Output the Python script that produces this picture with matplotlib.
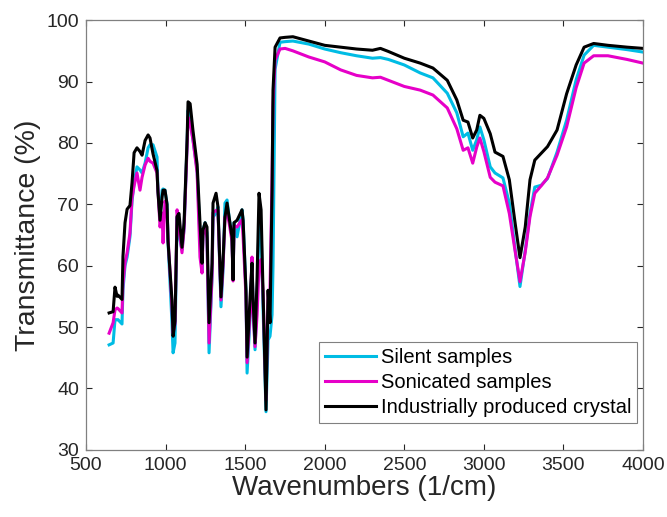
import matplotlib
matplotlib.use("Agg")
from matplotlib import pyplot as plt

plt.rcParams['font.family'] = ['Liberation Sans', 'DejaVu Sans']

# fingerprint region (shared wavenumber grid)
wn_left = [645, 670, 682, 695, 701, 726, 732, 745, 758, 776, 789, 802, 820, 839, 852, 871, 890, 902,
           921, 946, 952, 965, 978, 984, 996, 1009, 1015, 1040, 1047, 1059, 1072, 1084, 1103, 1116,
           1135, 1141, 1154, 1172, 1198, 1216, 1229, 1235, 1248, 1260, 1273, 1292, 1298, 1317, 1329,
           1348, 1361, 1373, 1386, 1399, 1417, 1424, 1430, 1449, 1480, 1487, 1505, 1512, 1531, 1543,
           1549, 1562, 1575, 1587, 1600, 1612, 1631, 1644, 1656, 1669, 1675, 1688, 1719, 1751]

silent_left = [47.1, 47.4, 51.2, 51.2, 51.2, 50.5, 56.0, 60.0, 61.4, 64.7, 70.5, 73.5, 76.1, 75.6, 75.1,
               76.7, 79.2, 79.7, 79.7, 77.7, 72.3, 67.9, 72.3, 72.5, 72.3, 70.0, 64.0, 50.7, 45.8, 47.4,
               67.9, 65.0, 62.6, 66.0, 80.0, 85.3, 83.7, 80.5, 75.6, 64.7, 59.3, 65.8, 67.0, 65.3, 45.8,
               58.2, 67.9, 68.6, 69.6, 53.3, 59.3, 70.2, 70.7, 67.9, 64.7, 57.7, 67.0, 64.7, 69.1, 67.4,
               56.0, 42.5, 51.7, 61.0, 53.9, 46.3, 54.9, 67.0, 66.0, 53.3, 36.2, 47.9, 48.5, 52.0, 60.0,
               92.0, 96.4, 96.5]

sonic_left = [49.0, 50.7, 52.8, 53.1, 53.0, 52.3, 57.0, 60.5, 62.1, 65.3, 71.0, 73.0, 75.1, 72.3, 74.4,
              76.4, 77.5, 77.0, 76.7, 75.1, 72.3, 66.3, 68.6, 63.7, 70.5, 69.0, 64.7, 53.3, 49.0, 50.5,
              69.1, 66.0, 62.1, 66.0, 79.3, 84.2, 83.2, 80.5, 75.1, 61.4, 58.8, 65.0, 66.5, 64.5, 47.4,
              58.5, 68.6, 69.0, 69.0, 54.4, 60.0, 67.9, 68.5, 67.0, 64.0, 57.5, 66.5, 66.3, 67.5, 64.7,
              55.0, 44.2, 52.5, 61.4, 53.0, 46.8, 52.0, 60.0, 61.0, 56.0, 38.1, 55.5, 56.0, 74.0, 86.0,
              93.5, 95.3, 95.4]

indus_left = [52.3, 52.5, 56.5, 55.0, 55.2, 54.5, 61.5, 67.0, 69.2, 69.8, 73.5, 78.4, 79.2, 78.6, 78.0,
              80.4, 81.3, 80.8, 78.2, 75.5, 72.0, 67.4, 71.2, 72.3, 72.3, 70.0, 64.0, 54.4, 48.5, 51.0,
              68.0, 68.5, 63.0, 67.0, 80.5, 86.7, 86.4, 82.0, 76.5, 67.0, 60.4, 65.8, 67.0, 66.3, 50.7,
              60.4, 70.2, 71.8, 69.6, 54.9, 61.0, 67.9, 70.2, 67.9, 64.7, 57.7, 67.0, 67.4, 69.1, 67.4,
              56.0, 45.1, 54.9, 60.4, 54.9, 47.4, 58.2, 71.8, 69.1, 56.0, 36.5, 56.0, 50.7, 72.3, 88.6,
              95.6, 97.1, 97.2]

# high wavenumber region
wn_right = [1800, 1900, 2000, 2100, 2200, 2300, 2350, 2400, 2500, 2600, 2680, 2770, 2830, 2870, 2900,
            2930, 2955, 2975, 3000, 3040, 3070, 3120, 3160, 3195, 3227, 3260, 3290, 3320, 3360, 3400,
            3460, 3520, 3580, 3630, 3690, 3780, 3900, 4000]

silent_right = [96.6, 96.1, 95.3, 94.7, 94.2, 93.8, 93.9, 93.6, 92.7, 91.4, 90.6, 88.1, 84.9, 81.0, 81.6,
                78.8, 80.5, 82.6, 80.5, 76.1, 75.1, 74.3, 70.2, 63.0, 56.6, 62.5, 68.5, 72.8, 73.1, 74.2,
                78.5, 83.7, 90.3, 94.3, 95.9, 95.6, 95.2, 94.8]

sonic_right = [95.0, 94.0, 93.2, 91.9, 91.0, 90.6, 90.7, 90.2, 89.2, 88.6, 87.8, 85.7, 82.3, 78.8, 79.2,
               76.7, 79.3, 80.8, 78.6, 74.4, 73.6, 73.0, 68.5, 62.6, 57.4, 62.2, 68.0, 71.8, 73.0, 74.3,
               78.0, 82.6, 89.0, 93.0, 94.2, 94.2, 93.6, 93.0]

indus_right = [97.3, 96.6, 95.9, 95.6, 95.3, 95.1, 95.4, 94.9, 93.8, 93.0, 92.2, 90.2, 87.0, 83.7, 83.4,
               80.8, 82.1, 84.5, 84.0, 81.5, 78.5, 77.8, 74.0, 67.2, 61.3, 66.3, 74.0, 77.2, 78.3, 79.4,
               82.1, 88.0, 92.7, 95.6, 96.2, 95.9, 95.6, 95.4]

wn = wn_left + wn_right
silent = silent_left + silent_right
sonic = sonic_left + sonic_right
indus = indus_left + indus_right

fig = plt.figure(figsize=(6.67, 5.17), dpi=100)
ax = fig.add_axes([0.129, 0.130, 0.835, 0.831])

ax.plot(wn, silent, color='#00BCE4', lw=2.2, label='Silent samples')
ax.plot(wn, sonic, color='#E600C8', lw=2.2, label='Sonicated samples')
ax.plot(wn, indus, color='black', lw=2.2, label='Industrially produced crystal')

ax.set_xlim(500, 4000)
ax.set_ylim(30, 100)
ax.set_xticks(range(500, 4001, 500))
ax.set_yticks(range(30, 101, 10))
ax.tick_params(direction='in', length=4, width=0.8, top=True, right=True,
               labelsize=14, colors='#262626')
ax.tick_params(axis='x', pad=5)
ax.tick_params(axis='y', pad=5)
for s in ax.spines.values():
    s.set_color('#808080')
    s.set_linewidth(0.9)

ax.set_xlabel('Wavenumbers (1/cm)', fontsize=20, color='#262626', labelpad=1)
ax.set_ylabel('Transmittance (%)', fontsize=20.5, color='#262626', labelpad=4)

leg = ax.legend(loc='lower right', bbox_to_anchor=(0.99, 0.063), borderaxespad=0,
                fontsize=14.5, fancybox=False, framealpha=1, handlelength=2.5,
                handletextpad=0.25, labelspacing=0.3, borderpad=0.3)
leg.get_frame().set_edgecolor('#808080')
leg.get_frame().set_linewidth(0.8)

plt.savefig('out.png', dpi=100)
